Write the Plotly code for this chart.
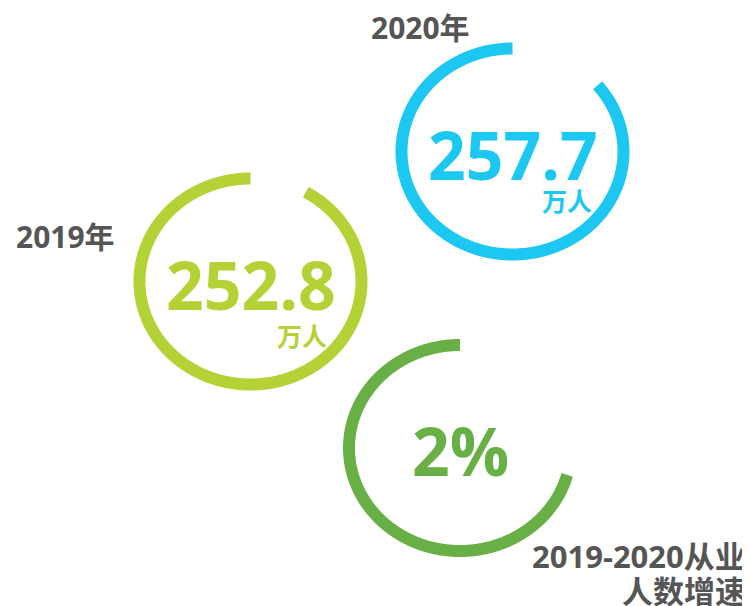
import numpy as np
import plotly.graph_objects as go

# ---- data ----
labels = ["2019年", "2020年", "2019-2020从业<br>人数增速"]
values = ["252.8", "257.7", "2%"]
units = ["万人", "万人", ""]
ring_share = [0.917, 0.861, 0.708]   # share of each ring that is drawn

# ---- layout / style (window pixel space) ----
colors = ["#B2D235", "#1CC8F2", "#68B045"]
centers = [(250.5, 281.5), (512.5, 151.5), (460.0, 448.0)]
rx, ry = 111.0, 103.0
label_pos = [(65, 236, "center"), (420, 27, "center"), (748, 556, "right")]
unit_pos = [(329, 335), (594, 200)]
text_gray = "#555555"
FONT = "Open Sans, Noto Sans CJK SC, sans-serif"
CJK = "Noto Sans CJK SC, sans-serif"
PAGE_MARGIN = 8   # default body margin of the html page

fig = go.Figure()
annotations = []
for i in range(3):
    cx, cy = centers[i]
    theta = np.radians(np.linspace(360 * (1 - ring_share[i]), 360, 500))
    fig.add_trace(go.Scatter(
        x=cx + rx * np.sin(theta), y=cy - ry * np.cos(theta),
        mode="lines", line=dict(color=colors[i], width=12, simplify=False),
        hoverinfo="skip", showlegend=False))
    annotations.append(dict(x=cx, y=cy + 2, text="<b>%s</b>" % values[i],
                            font=dict(family=FONT, size=66, color=colors[i]),
                            xanchor="center", yanchor="middle", showarrow=False))
    if units[i]:
        ux, uy = unit_pos[i]
        annotations.append(dict(x=ux, y=uy, text="<b>%s</b>" % units[i],
                                font=dict(family=CJK, size=25, color=colors[i]),
                                xanchor="right", yanchor="middle", showarrow=False))
    lx, ly, anc = label_pos[i]
    for j, line in enumerate(labels[i].split("<br>")):
        annotations.append(dict(x=lx, y=ly + 35 * j, text="<b>%s</b>" % line,
                                font=dict(family=FONT, size=31 if i == 2 else 30,
                                          color=text_gray),
                                xanchor=anc, yanchor="middle", showarrow=False))

W, H = 750, 606
fig.update_layout(
    width=W - PAGE_MARGIN, height=H - PAGE_MARGIN,
    margin=dict(l=0, r=0, t=0, b=0),
    paper_bgcolor="white", plot_bgcolor="white",
    xaxis=dict(range=[PAGE_MARGIN, W], visible=False, fixedrange=True),
    yaxis=dict(range=[H, PAGE_MARGIN], visible=False, fixedrange=True),
    annotations=annotations,
)
fig.write_html("out.html")
